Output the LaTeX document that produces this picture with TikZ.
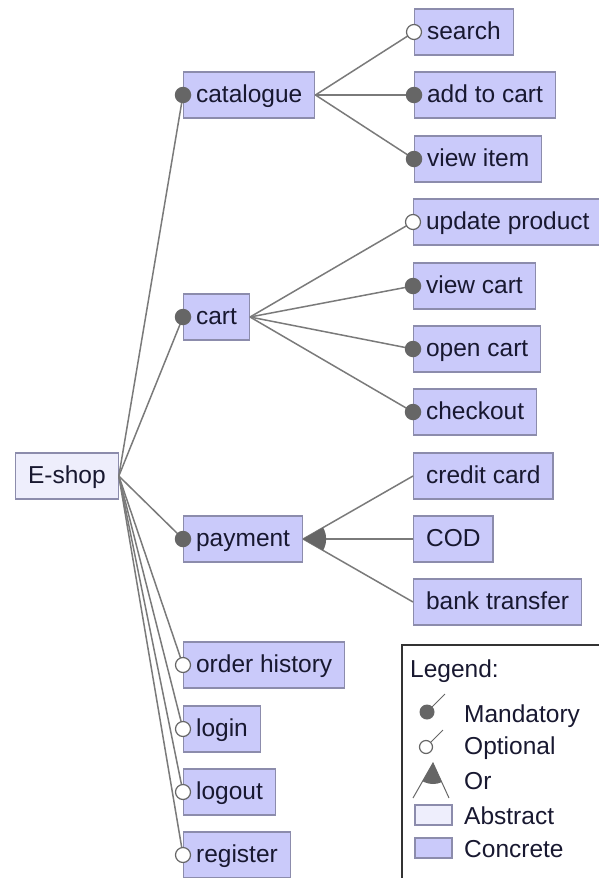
\documentclass[tikz,border=0pt]{standalone}
\usepackage{fontspec}
\setmainfont{Liberation Sans}
\definecolor{concrete}{RGB}{202,202,250}
\definecolor{abstractc}{RGB}{238,238,252}
\definecolor{boxline}{RGB}{140,140,172}
\definecolor{edgecol}{RGB}{122,122,122}
\definecolor{dotcol}{RGB}{102,102,102}
\definecolor{txt}{RGB}{24,24,48}
\begin{document}
\begin{tikzpicture}[x=1pt,y=-1pt,
  feat/.style={draw=boxline, line width=1.2pt, fill=concrete, anchor=west,
    minimum height=46pt, inner xsep=12.5pt, inner ysep=0pt,
    text height=17pt, text depth=3pt, text=txt,
    font=\fontsize{24.5}{28}\selectfont},
  absfeat/.style={feat, fill=abstractc},
  edge/.style={draw=edgecol, line width=1.5pt},
  mand/.style={circle, fill=dotcol, minimum size=16.5pt, inner sep=0pt},
  opt/.style={circle, draw=dotcol, line width=1.2pt, fill=white,
    minimum size=15pt, inner sep=0pt},
  legtext/.style={anchor=base west, inner sep=0pt, text=txt,
    font=\fontsize{24.5}{28}\selectfont}]
\useasboundingbox (0,0) rectangle (598,878);

% feature boxes
\node[absfeat] (eshop) at (15,476) {E-shop};
\node[feat] (catalogue) at (183,95)  {catalogue};
\node[feat] (cart)      at (183,317) {cart};
\node[feat] (payment)   at (183,539) {payment};
\node[feat] (orderhist) at (183,665) {order history};
\node[feat] (login)     at (183,729) {login};
\node[feat] (logout)    at (183,792) {logout};
\node[feat] (register)  at (183,855) {register};
\node[feat] (search)    at (414,32)  {search};
\node[feat] (addcart)   at (414,95)  {add to cart};
\node[feat] (viewitem)  at (414,159) {view item};
\node[feat] (update)    at (413,222) {update product};
\node[feat] (viewcart)  at (413,286) {view cart};
\node[feat] (opencart)  at (413,349) {open cart};
\node[feat] (checkout)  at (413,412) {checkout};
\node[feat] (credit)    at (413,476) {credit card};
\node[feat] (cod)       at (413,539) {COD};
\node[feat] (bank)      at (413,602) {bank transfer};

% connectors from each parent to its children
\foreach \c in {catalogue,cart,payment,orderhist,login,logout,register}
  \draw[edge] (eshop.east) -- (\c.west);
\foreach \c in {search,addcart,viewitem}
  \draw[edge] (catalogue.east) -- (\c.west);
\foreach \c in {update,viewcart,opencart,checkout}
  \draw[edge] (cart.east) -- (\c.west);
\foreach \c in {credit,cod,bank}
  \draw[edge] (payment.east) -- (\c.west);

% or-group sector
\begin{scope}
  \clip (payment.east) -- (credit.west) -- (bank.west) -- cycle;
  \fill[dotcol] (payment.east) circle (23pt);
\end{scope}

% mandatory / optional markers
\foreach \c in {catalogue,cart,payment,addcart,viewitem,viewcart,opencart,checkout}
  \node[mand] (m-\c) at (\c.west) {};
\foreach \c in {orderhist,login,logout,register,search,update}
  \node[opt] (o-\c) at (\c.west) {};

% legend
\draw[line width=1.4pt, draw=black!80] (402,645) rectangle (640,920);
\node[legtext] (lg-title) at (410,677) {Legend:};
\draw[dotcol, line width=1pt] (427,712) -- (445,694);
\fill[dotcol] (427,712) circle (7.5pt);
\node[legtext] (lg-mand) at (464,722) {Mandatory};
\draw[dotcol, line width=1pt] (426,747) -- (443,730);
\draw[dotcol, line width=1.2pt, fill=white] (426,747) circle (6.5pt);
\node[legtext] (lg-opt) at (464,754) {Optional};
\draw[dotcol, line width=1pt] (413,798) -- (433,763) -- (449,798);
\begin{scope}
  \clip (433,763) -- (413,798) -- (449,798) -- cycle;
  \fill[dotcol] (433,763) circle (21pt);
\end{scope}
\node[legtext] (lg-or) at (464,789) {Or};
\draw[boxline, line width=1.2pt, fill=abstractc] (415,805) rectangle (452,825);
\node[legtext] (lg-abs) at (464,824) {Abstract};
\draw[boxline, line width=1.2pt, fill=concrete] (415,838) rectangle (452,858);
\node[legtext] (lg-con) at (464,857) {Concrete};
\end{tikzpicture}
\end{document}
